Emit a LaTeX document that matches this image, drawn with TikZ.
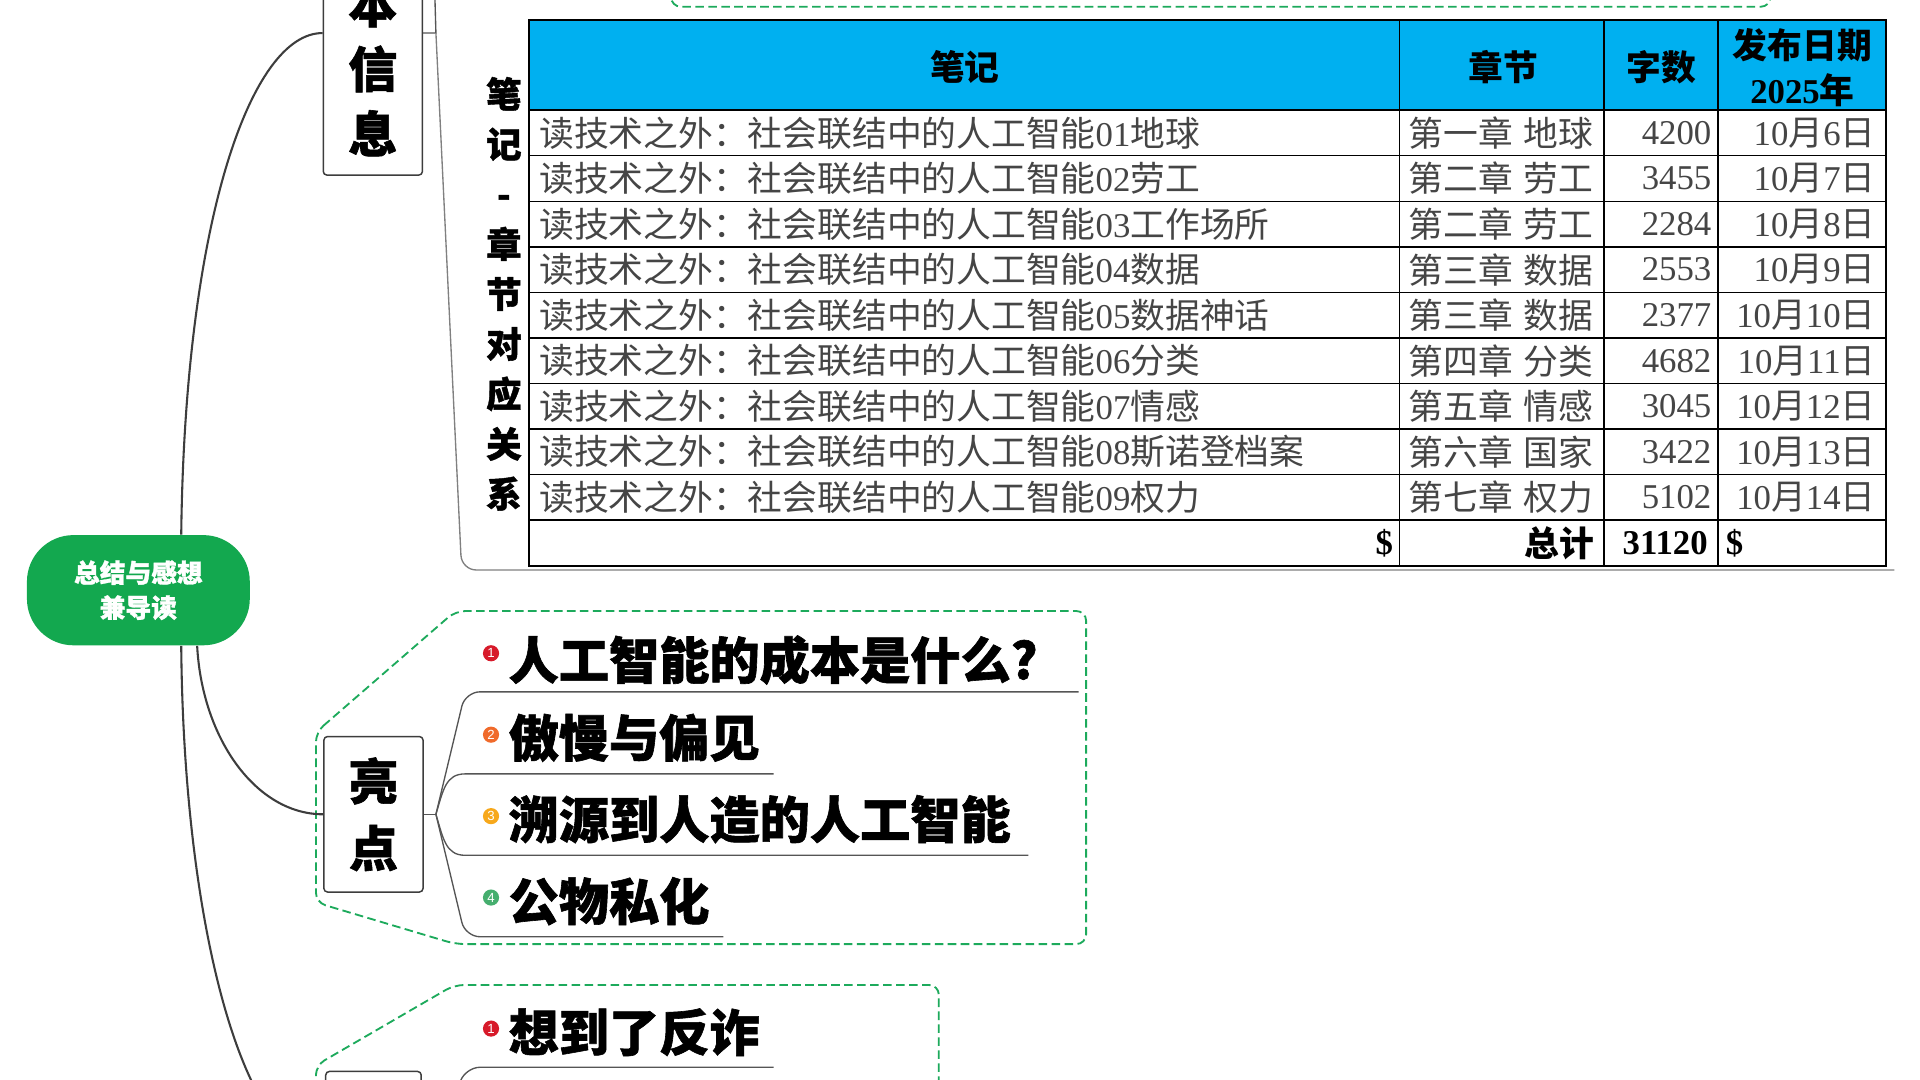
\documentclass[tikz,border=0pt]{standalone}
\usepackage{fontspec}
\setmainfont{Liberation Serif}
\newfontfamily\cjk{Noto Sans CJK SC}
\newfontfamily\cjkh[BoldFeatures={FakeBold=1.2}]{Noto Sans CJK SC}
\newfontfamily\lsans{Liberation Sans}
\newcommand{\zh}[1]{{\cjk #1}}
\newcommand{\rowtitle}[2]{\zh{读技术之外：社会联结中的人工智能}#1\zh{#2}}
\newcommand{\chapcell}[2]{\zh{第#1章}\hspace{4.5pt}\zh{#2}}
\newcommand{\datecell}[1]{10\zh{月}#1\zh{日}}
\definecolor{rootgreen}{HTML}{13A84F}
\definecolor{dashgreen}{HTML}{1DAA5C}
\definecolor{hdrblue}{HTML}{00B0F0}
\definecolor{linegray}{HTML}{3D3D3D}
\definecolor{subgray}{HTML}{555555}
\definecolor{txtgray}{HTML}{454545}
\definecolor{mone}{HTML}{D71A2A}
\definecolor{mtwo}{HTML}{F06A2A}
\definecolor{mthree}{HTML}{F7A81B}
\definecolor{mfour}{HTML}{45AE6E}
\begin{document}
\begin{tikzpicture}[x=0.5pt,y=-0.5pt,
  rootnode/.style={fill=rootgreen, rounded corners=19pt, minimum width=91pt, minimum height=45pt, text=white, font=\cjkh\bfseries\fontsize{10.5pt}{14.25pt}\selectfont, align=center, inner sep=0pt},
  branchbox/.style={draw=linegray, line width=0.6pt, fill=white, rounded corners=1.5pt, minimum width=40.5pt, inner sep=0pt, align=center, font=\cjkh\bfseries\fontsize{20pt}{26.5pt}\selectfont},
  vlabel/.style={align=center, inner sep=0pt, font=\cjkh\bfseries\fontsize{14.5pt}{20.4pt}\selectfont},
  childbox/.style={fill=white, minimum height=30pt, inner sep=0pt, anchor=south west},
  childtext/.style={anchor=west, inner sep=0pt, font=\cjkh\bfseries\fontsize{20.5pt}{24pt}\selectfont},
  numdot/.style={circle, minimum size=6.6pt, inner sep=0pt, text=white, font=\lsans\fontsize{5.4pt}{6pt}\selectfont},
  branch/.style={draw=linegray, line width=0.85pt},
  subline/.style={draw=subgray, line width=0.55pt},
  groupline/.style={draw=dashgreen, line width=0.75pt, dash pattern=on 3.5pt off 1.8pt, rounded corners=4pt},
  tline/.style={draw=black, line width=0.6pt},
  tcell/.style={inner sep=0pt, text=txtgray, font=\fontsize{14.2pt}{16pt}\selectfont},
  thead/.style={inner sep=0pt, text=black, align=center, font=\bfseries\fontsize{14.2pt}{18.25pt}\selectfont},
  ttot/.style={inner sep=0pt, text=black, font=\bfseries\fontsize{14.2pt}{16pt}\selectfont}
]
\useasboundingbox (0,0) rectangle (1568,882);
\clip (0,0) rectangle (1568,882);
\fill[white] (0,0) rectangle (1568,882);

% group boundaries
\draw[groupline] (548,-10) -- (548,5.5) -- (1446,5.5) -- (1446,-10);
\draw[groupline] (258,598) -- (372,499) -- (887,499) -- (887,771) -- (372,771) -- (258,737) -- cycle;
\draw[groupline] (258,900) -- (258,870) -- (371,804.4) -- (766.7,804.4) -- (766.7,900);

% main nodes
\node[rootnode] (root) at (113,482) {总结与感想\\兼导读};
\node[branchbox, minimum height=87pt] (info) at (304.5,56) {本\\信\\息};
\node[branchbox, minimum height=63.5pt, font=\cjkh\bfseries\fontsize{20pt}{27.3pt}\selectfont] (hl) at (305,665) {亮\\点};
\node[branchbox, minimum height=65pt, minimum width=39pt] (s3) at (305,940) {};

% vertical label
\node[vlabel] (vlab) at (411.5,240) {笔\\记\\-\\章\\节\\对\\应\\关\\系};

% child boxes
\node[childbox, minimum width=250pt] (h1box) at (380,565) {};
\node[childbox, minimum width=125.5pt] (h2box) at (380,632) {};
\node[childbox, minimum width=229.5pt] (h3box) at (380,698.5) {};
\node[childbox, minimum width=105pt] (h4box) at (380,765) {};
\node[childbox, minimum width=125.5pt] (t1box) at (380,871.6) {};

\node[childtext] (h1t) at (415,539) {人工智能的成本是什么?};
\node[childtext] (h2t) at (415,602.6) {傲慢与偏见};
\node[childtext] (h3t) at (415,669) {溯源到人造的人工智能};
\node[childtext] (h4t) at (415,736) {公物私化};
\node[childtext] (t1t) at (415,843) {想到了反诈};

\node[numdot, fill=mone] (h1m) at (401,533.5) {1};
\node[numdot, fill=mtwo] (h2m) at (401,600) {2};
\node[numdot, fill=mthree] (h3m) at (401,666.5) {3};
\node[numdot, fill=mfour] (h4m) at (401,733) {4};
\node[numdot, fill=mone] (t1m) at (401,840) {1};

% connectors from root
\draw[branch] ([xshift=17.5pt]root.north) .. controls (151,180) and (205,27) .. ([yshift=14.5pt]info.west);
\draw[branch] ([xshift=24pt]root.south) .. controls (165,603) and (209,665) .. (hl.west);
\draw[branch] ([xshift=17.5pt]root.south) .. controls (150,760) and (200,940) .. (s3.west);

% info fan
\coordinate (f1) at (356,27);
\coordinate (f1up) at (355,-8);
\coordinate (ulc) at (377,465.5);
\coordinate (ul) at (1547,465.5);
\draw[subline] ([yshift=14.5pt]info.east) -- (f1) -- (f1up);
\draw[subline, draw=gray, rounded corners=6pt] (f1) -- (ulc) -- (ul);

% highlight fan
\coordinate (f2) at (356,665);
\draw[subline] (hl.east) -- (f2);
\draw[subline, rounded corners=6pt] (f2) -- (h1box.south west) -- (h1box.south east);
\draw[subline] (f2) .. controls (362,645) and (364,632) .. (h2box.south west) -- (h2box.south east);
\draw[subline] (f2) .. controls (362,685) and (364,698.5) .. (h3box.south west) -- (h3box.south east);
\draw[subline, rounded corners=6pt] (f2) -- (h4box.south west) -- (h4box.south east);

% third fan
\coordinate (f3) at (356,940);
\draw[subline] (s3.east) -- (f3);
\draw[subline, rounded corners=6pt] (f3) -- (t1box.south west) -- (t1box.south east);

% table
\fill[hdrblue] (432,16) rectangle (1540,90);
\foreach \k in {0,...,10} {\draw[tline] (432,{90+37.2*\k}) -- (1540,{90+37.2*\k});}
\foreach \xx in {1143,1310,1403} {\draw[tline] (\xx,16) -- (\xx,462);}
\draw[tline, line width=0.8pt] (432,16) rectangle (1540,462);

\node[thead] (hnote) at (788,55) {\zh{笔记}};
\node[thead] (hchap) at (1228,55) {\zh{章节}};
\node[thead] (hwc) at (1357,55) {\zh{字数}};
\node[thead] (hdate) at (1472,55) {\zh{发布日期}\\2025\zh{年}};

\foreach \i/\vN/\vT/\vC/\vK/\vW/\vD in {
1/01/地球/一/地球/4200/6,
2/02/劳工/二/劳工/3455/7,
3/03/工作场所/二/劳工/2284/8,
4/04/数据/三/数据/2553/9,
5/05/数据神话/三/数据/2377/10,
6/06/分类/四/分类/4682/11,
7/07/情感/五/情感/3045/12,
8/08/斯诺登档案/六/国家/3422/13,
9/09/权力/七/权力/5102/14}{
  \pgfmathsetmacro{\yy}{108.6+37.2*(\i-1)}
  \node[tcell, anchor=west] (ra\i) at (440,\yy) {\rowtitle{\vN}{\vT}};
  \node[tcell, anchor=west] (rb\i) at (1150,\yy) {\chapcell{\vC}{\vK}};
  \node[tcell, anchor=east] (rc\i) at (1398,\yy) {\vW};
  \node[tcell, anchor=east] (rd\i) at (1532,\yy) {\datecell{\vD}};
}
\node[ttot, anchor=east] (tdol) at (1138,443.4) {\$};
\node[ttot, anchor=east] (tsum) at (1302,443.4) {\zh{总计}};
\node[ttot, anchor=east] (tnum) at (1395,443.4) {31120};
\node[ttot, anchor=west] (tdol2) at (1409,443.4) {\$};
\end{tikzpicture}
\end{document}
